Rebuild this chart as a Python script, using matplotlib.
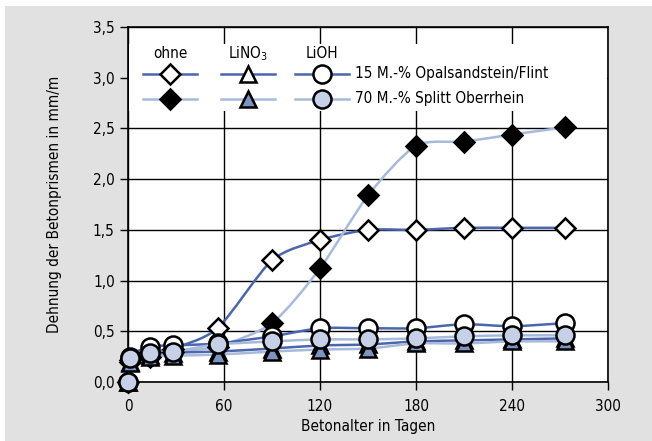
import numpy as np
import matplotlib
matplotlib.use("Agg")
import matplotlib.pyplot as plt
from matplotlib.path import Path
from matplotlib.patches import PathPatch, Rectangle
from matplotlib import font_manager

names = sorted({f.name for f in font_manager.fontManager.ttflist})
print(names)
print([ (f.name, f.stretch, f.fname) for f in font_manager.fontManager.ttflist if 'Condensed' in f.fname or 'Narrow' in f.fname])

plt.rcParams['font.family'] = ['DejaVu Sans']
plt.rcParams['font.stretch'] = 'condensed'

# Betonalter in Tagen
days = [0, 1, 14, 28, 56, 90, 120, 150, 180, 210, 240, 273]

# Dehnung in mm/m
ohne_15 = [0.0, 0.22, 0.30, 0.33, 0.53, 1.20, 1.40, 1.50, 1.50, 1.52, 1.52, 1.52]
ohne_70 = [0.0, 0.20, 0.25, 0.30, 0.35, 0.58, 1.12, 1.84, 2.33, 2.37, 2.44, 2.51]
lino3_15 = [0.0, 0.20, 0.27, 0.29, 0.30, 0.33, 0.36, 0.37, 0.40, 0.41, 0.42, 0.43]
lino3_70 = [0.0, 0.19, 0.25, 0.26, 0.27, 0.30, 0.32, 0.33, 0.38, 0.38, 0.40, 0.40]
lioh_15 = [0.0, 0.25, 0.35, 0.36, 0.38, 0.45, 0.53, 0.53, 0.53, 0.57, 0.55, 0.58]
lioh_70 = [0.0, 0.24, 0.29, 0.30, 0.37, 0.40, 0.42, 0.42, 0.43, 0.45, 0.46, 0.46]

xticks = [0, 60, 120, 180, 240, 300]
yticks = [0.0, 0.5, 1.0, 1.5, 2.0, 2.5, 3.0, 3.5]
yticklabels = ['0,0', '0,5', '1,0', '1,5', '2,0', '2,5', '3,0', '3,5']

dark = '#4a66ad'
light = '#a8badc'
tri_fill = '#7f93c2'
circ_fill = '#c6d1e8'


def smooth_path(x, y, k=8.0):
    # Catmull-Rom style Bezier, like a smoothed spreadsheet line
    p = np.column_stack([np.asarray(x, float), np.asarray(y, float)])
    verts = [p[0]]
    codes = [Path.MOVETO]
    n = len(p)
    for i in range(n - 1):
        p0 = p[i - 1] if i > 0 else p[i]
        p1 = p[i]
        p2 = p[i + 1]
        p3 = p[i + 2] if i + 2 < n else p[i + 1]
        c1 = p1 + (p2 - p0) / k
        c2 = p2 - (p3 - p1) / k
        verts += [c1, c2, p2]
        codes += [Path.CURVE4] * 3
    return Path(verts, codes)


fig = plt.figure(figsize=(6.52, 4.41), dpi=100)
fig.patch.set_facecolor('white')
fig.patches.append(Rectangle((5 / 652, 0), 1, 1 - 6 / 441, transform=fig.transFigure,
                             facecolor='#e1e1e1', edgecolor='none', zorder=-10))

ax = fig.add_axes([128 / 652, 1 - 382 / 441, 480 / 652, 355 / 441])
ax.set_facecolor('white')
ax.set_axisbelow(True)
ax.grid(True, color='black', lw=1.0)

ax.set_xlim(0, 300)
ax.set_ylim(0, 3.5)
ax.set_xticks(xticks)
ax.set_yticks(yticks)
ax.set_yticklabels(yticklabels)
ax.tick_params(labelsize=11, length=6, width=1, colors='black')
ax.tick_params(axis='x', pad=6)
for s in ax.spines.values():
    s.set_linewidth(1.2)

# white area behind the legend
ax.add_patch(Rectangle((0.002, 0.762), 0.996, 0.19, transform=ax.transAxes,
                       facecolor='white', edgecolor='none', zorder=1))

series = [
    (ohne_15, dark, 'D', 'white', 10),
    (ohne_70, light, 'D', 'black', 10),
    (lino3_15, dark, '^', 'white', 12),
    (lino3_70, light, '^', tri_fill, 12),
    (lioh_15, dark, 'o', 'white', 13),
    (lioh_70, light, 'o', circ_fill, 13),
]

for vals, col, m, fc, ms in series:
    ax.add_patch(PathPatch(smooth_path(days, vals), facecolor='none', edgecolor=col,
                           lw=1.8, zorder=2))
for vals, col, m, fc, ms in series:
    ax.plot(days, vals, ls='none', marker=m, ms=ms, mfc=fc, mec='black', mew=1.8,
            zorder=3, clip_on=False)

# legend
cols = [0.0875, 0.25, 0.404]
heads = ['ohne', 'LiNO$_3$', 'LiOH']
rows = [0.868, 0.798]
for cx, h in zip(cols, heads):
    ax.text(cx, 0.924, h, transform=ax.transAxes, ha='center', va='center', fontsize=11)
for i, (vals, col, m, fc, ms) in enumerate(series):
    cx = cols[i // 2]
    ry = rows[i % 2]
    ax.plot([cx - 0.056, cx + 0.056], [ry, ry], color=col, lw=1.8,
            transform=ax.transAxes, zorder=4)
    ax.plot([cx], [ry], marker=m, ms=ms, mfc=fc, mec='black', mew=1.8,
            transform=ax.transAxes, zorder=5, ls='none')
ax.text(0.473, rows[0], '15 M.-% Opalsandstein/Flint', transform=ax.transAxes,
        ha='left', va='center', fontsize=11)
ax.text(0.473, rows[1], '70 M.-% Splitt Oberrhein', transform=ax.transAxes,
        ha='left', va='center', fontsize=11)

ax.set_xlabel('Betonalter in Tagen', fontsize=11, labelpad=4)
ax.set_ylabel('Dehnung der Betonprismen in mm/m', fontsize=11, labelpad=22)

fig.savefig('out.png', dpi=100, facecolor=fig.get_facecolor())
